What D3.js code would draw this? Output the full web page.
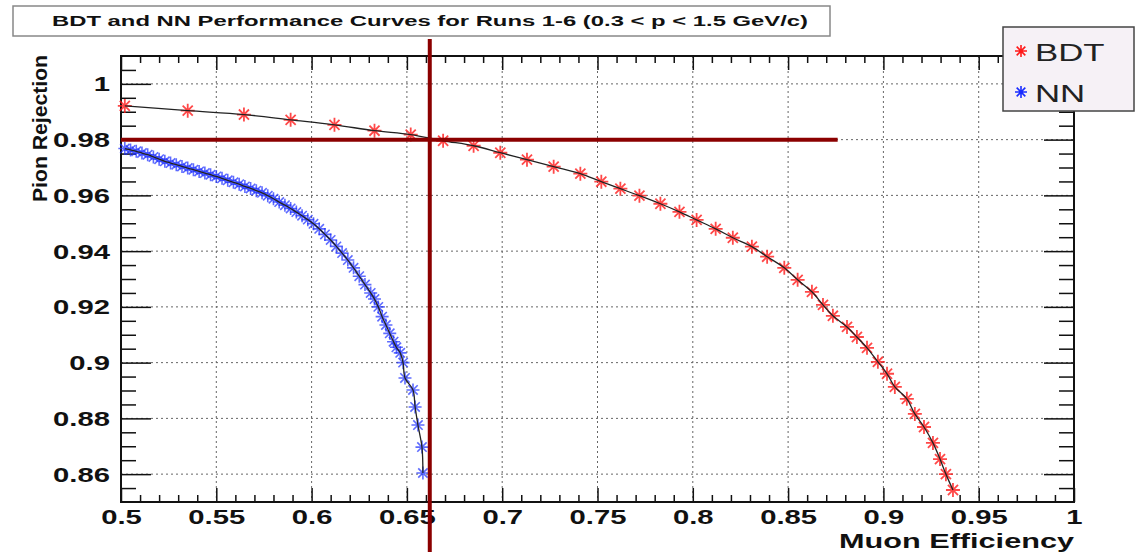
<!DOCTYPE html>
<html>
<head>
<meta charset="utf-8">
<script src="https://cdn.jsdelivr.net/npm/d3@7"></script>
<style>
  body { margin: 0; background: #fff; }
  text { font-family: "Liberation Sans", Arial, sans-serif; }
</style>
</head>
<body>
<svg id="chart"></svg>
<script>
// muon efficiency vs pion rejection
const bdtEff = [0.502, 0.535, 0.5645, 0.589, 0.612, 0.633, 0.652, 0.669, 0.685, 0.699,
  0.713, 0.727, 0.741, 0.752, 0.762, 0.772, 0.783, 0.793, 0.802, 0.812,
  0.821, 0.831, 0.839, 0.848, 0.855, 0.8625, 0.8683, 0.8735, 0.8809, 0.8861,
  0.8914, 0.8971, 0.9019, 0.906, 0.9123, 0.9165, 0.9213, 0.926, 0.9297, 0.9328, 0.9365];
const bdtRej = [0.9921, 0.9904, 0.989, 0.9871, 0.9853, 0.9832, 0.9818, 0.9796, 0.9778, 0.9753,
  0.9728, 0.9703, 0.9678, 0.9649, 0.9624, 0.9599, 0.957, 0.9541, 0.9512, 0.948,
  0.9448, 0.9416, 0.938, 0.934, 0.9297, 0.9254, 0.9207, 0.9168, 0.9128, 0.9092,
  0.9053, 0.9003, 0.896, 0.8913, 0.887, 0.8816, 0.8769, 0.8712, 0.8654, 0.86, 0.8543];

const nnEff = [0.502, 0.505, 0.508, 0.511, 0.514, 0.517, 0.520, 0.523, 0.526, 0.529,
  0.532, 0.535, 0.538, 0.541, 0.544, 0.547, 0.550, 0.553, 0.556, 0.559,
  0.562, 0.565, 0.568, 0.571, 0.574, 0.577, 0.580, 0.583, 0.586, 0.589,
  0.592, 0.595, 0.598, 0.601, 0.604, 0.607, 0.610, 0.613, 0.616, 0.619,
  0.622, 0.625, 0.628, 0.631, 0.633, 0.635, 0.637, 0.639, 0.641, 0.643,
  0.6445, 0.6465, 0.648, 0.649, 0.6532, 0.6543, 0.6558, 0.6579, 0.6584];
const nnRej = [0.9768, 0.9763, 0.9758, 0.9752, 0.9746, 0.9738, 0.9730, 0.9722, 0.9716, 0.9710,
  0.9704, 0.9698, 0.9692, 0.9686, 0.9680, 0.9674, 0.9668, 0.9661, 0.9654, 0.9647,
  0.9640, 0.9632, 0.9625, 0.9617, 0.9609, 0.9599, 0.9588, 0.9576, 0.9565, 0.9553,
  0.9540, 0.9527, 0.9513, 0.9498, 0.9480, 0.9460, 0.9440, 0.9417, 0.9393, 0.9368,
  0.9340, 0.9310, 0.9280, 0.9250, 0.9228, 0.9200, 0.9165, 0.9135, 0.9105, 0.9075,
  0.9055, 0.9035, 0.9000, 0.8945, 0.8902, 0.8841, 0.8776, 0.8697, 0.8604];

const xTicks = [0.5, 0.55, 0.6, 0.65, 0.7, 0.75, 0.8, 0.85, 0.9, 0.95, 1];
const xTickLabels = ["0.5", "0.55", "0.6", "0.65", "0.7", "0.75", "0.8", "0.85", "0.9", "0.95", "1"];
const yTicks = [0.86, 0.88, 0.9, 0.92, 0.94, 0.96, 0.98, 1];
const yTickLabels = ["0.86", "0.88", "0.9", "0.92", "0.94", "0.96", "0.98", "1"];

// working point cut lines
const cutEff = 0.662;
const cutRej = 0.98;
const cutRejEnd = 0.876;

const series = ["BDT", "NN"];
const seriesColor = ["#ff1a1a", "#1a2cff"];

const width = 1136, height = 552;
const fLeft = 121, fRight = 1074, fTop = 56, fBottom = 502;
const sx = 1.5; // the original picture is stretched sideways

const svg = d3.select("#chart").attr("width", width).attr("height", height);

const x = d3.scaleLinear().domain([0.5, 1]).range([fLeft, fRight]);
const y = d3.scaleLinear().domain([0.85, 1.01]).range([fBottom, fTop]);

// title box
svg.append("rect").attr("x", 13).attr("y", 6).attr("width", 817).attr("height", 30)
  .attr("fill", "#fff").attr("stroke", "#888").attr("stroke-width", 1.5);
svg.append("text").attr("x", 52).attr("y", 26)
  .attr("font-size", 14.5).attr("font-weight", "bold").attr("fill", "#111")
  .attr("textLength", 756).attr("lengthAdjust", "spacingAndGlyphs")
  .text("BDT and NN Performance Curves for Runs 1-6 (0.3 < p < 1.5 GeV/c)");

// grid
const grid = svg.append("g").attr("stroke", "#666").attr("stroke-width", 1).attr("stroke-dasharray", "2,3");
grid.selectAll("line.gx").data(xTicks.slice(1, -1)).join("line")
  .attr("x1", d => x(d)).attr("x2", d => x(d)).attr("y1", fTop).attr("y2", fBottom);
grid.selectAll("line.gy").data(yTicks).join("line")
  .attr("x1", fLeft).attr("x2", fRight).attr("y1", d => y(d)).attr("y2", d => y(d));

// axes, ticks on all four sides pointing inwards
const isMajor = (v, list) => list.some(t => Math.abs(t - v) < 1e-6);
const xMinor = d3.range(0.51, 1, 0.01).filter(v => !isMajor(v, xTicks));
const yMinor = d3.range(0.855, 1.009, 0.005).filter(v => !isMajor(v, yTicks));

function styleAxis(g) {
  g.select(".domain").remove();
  g.selectAll("line").attr("stroke", "#111").attr("stroke-width", 1.5);
}

svg.append("g").attr("transform", `translate(0,${fBottom})`)
  .call(d3.axisBottom(x).tickValues(xMinor).tickSize(-7).tickFormat(""))
  .call(styleAxis);
const xAxisG = svg.append("g").attr("transform", `translate(0,${fBottom})`)
  .call(d3.axisBottom(x).tickValues(xTicks).tickSize(-14).tickFormat((d, i) => xTickLabels[i]))
  .call(styleAxis);
xAxisG.selectAll("text")
  .attr("y", 0).attr("dy", 0).attr("transform", `translate(0,22) scale(${sx},1)`)
  .attr("font-size", 19.5).attr("font-weight", "bold").attr("fill", "#111");

svg.append("g").attr("transform", `translate(0,${fTop})`)
  .call(d3.axisTop(x).tickValues(xMinor).tickSize(-7).tickFormat("")).call(styleAxis);
svg.append("g").attr("transform", `translate(0,${fTop})`)
  .call(d3.axisTop(x).tickValues(xTicks).tickSize(-14).tickFormat("")).call(styleAxis);

svg.append("g").attr("transform", `translate(${fLeft},0)`)
  .call(d3.axisLeft(y).tickValues(yMinor).tickSize(-15).tickFormat("")).call(styleAxis);
const yAxisG = svg.append("g").attr("transform", `translate(${fLeft},0)`)
  .call(d3.axisLeft(y).tickValues(yTicks).tickSize(-30).tickFormat((d, i) => yTickLabels[i]))
  .call(styleAxis);
yAxisG.selectAll("text")
  .attr("x", 0).attr("dy", "0.36em").attr("transform", `translate(-11,0) scale(${sx},1)`)
  .attr("font-size", 19.5).attr("font-weight", "bold").attr("fill", "#111");

svg.append("g").attr("transform", `translate(${fRight},0)`)
  .call(d3.axisRight(y).tickValues(yMinor).tickSize(-15).tickFormat("")).call(styleAxis);
svg.append("g").attr("transform", `translate(${fRight},0)`)
  .call(d3.axisRight(y).tickValues(yTicks).tickSize(-30).tickFormat("")).call(styleAxis);

// frame
svg.append("rect").attr("x", fLeft).attr("y", fTop).attr("width", fRight - fLeft).attr("height", fBottom - fTop)
  .attr("fill", "none").attr("stroke", "#111").attr("stroke-width", 2);

// axis titles
svg.append("text").attr("x", 1074).attr("y", 548).attr("text-anchor", "end")
  .attr("font-size", 21).attr("font-weight", "bold").attr("fill", "#111")
  .attr("textLength", 235).attr("lengthAdjust", "spacingAndGlyphs")
  .text("Muon Efficiency");
svg.append("text").attr("transform", "translate(47,55) rotate(-90)").attr("text-anchor", "end")
  .attr("font-size", 20).attr("font-weight", "bold").attr("fill", "#111")
  .attr("textLength", 147).attr("lengthAdjust", "spacingAndGlyphs")
  .text("Pion Rejection");

// markers + curves
function star(r) {
  const a = r * 0.72;
  return `M${-r},0L${r},0M0,${-r}L0,${r}M${-a},${-a}L${a},${a}M${-a},${a}L${a},${-a}`;
}
const line = d3.line().x(d => x(d[0])).y(d => y(d[1])).curve(d3.curveCatmullRom);

const bdt = d3.zip(bdtEff, bdtRej);
const nn = d3.zip(nnEff, nnRej);

svg.append("g").selectAll("path").data(nn).join("path")
  .attr("transform", d => `translate(${x(d[0])},${y(d[1])})`)
  .attr("d", star(6.5)).attr("stroke", seriesColor[1]).attr("stroke-width", 1.6)
  .attr("stroke-opacity", 0.7).attr("fill", "none");
svg.append("g").selectAll("path").data(bdt).join("path")
  .attr("transform", d => `translate(${x(d[0])},${y(d[1])})`)
  .attr("d", star(7)).attr("stroke", seriesColor[0]).attr("stroke-width", 1.8)
  .attr("stroke-opacity", 0.8).attr("fill", "none");

svg.append("path").datum(nn).attr("d", line)
  .attr("fill", "none").attr("stroke", "#222").attr("stroke-width", 1.3);
svg.append("path").datum(bdt).attr("d", line)
  .attr("fill", "none").attr("stroke", "#222").attr("stroke-width", 1.3);

// cut lines
svg.append("line").attr("x1", x(0.5)).attr("x2", x(cutRejEnd)).attr("y1", y(cutRej)).attr("y2", y(cutRej))
  .attr("stroke", "#8b0000").attr("stroke-width", 4);
svg.append("line").attr("x1", x(cutEff)).attr("x2", x(cutEff)).attr("y1", 39).attr("y2", height)
  .attr("stroke", "#8b0000").attr("stroke-width", 4);

// legend
const lg = svg.append("g");
lg.append("rect").attr("x", 1003).attr("y", 27).attr("width", 131).attr("height", 84)
  .attr("fill", "#f6f1f6").attr("stroke", "#444").attr("stroke-width", 1.5);
series.forEach((s, i) => {
  const cy = 51 + i * 41;
  lg.append("path").attr("transform", `translate(1021,${cy})`).attr("d", star(6))
    .attr("stroke", seriesColor[i]).attr("stroke-width", 1.6).attr("fill", "none");
  lg.append("text").attr("transform", `translate(1035,${cy + 10}) scale(1.45,1)`)
    .attr("font-size", 24).attr("fill", "#222").text(s);
});
</script>
</body>
</html>
